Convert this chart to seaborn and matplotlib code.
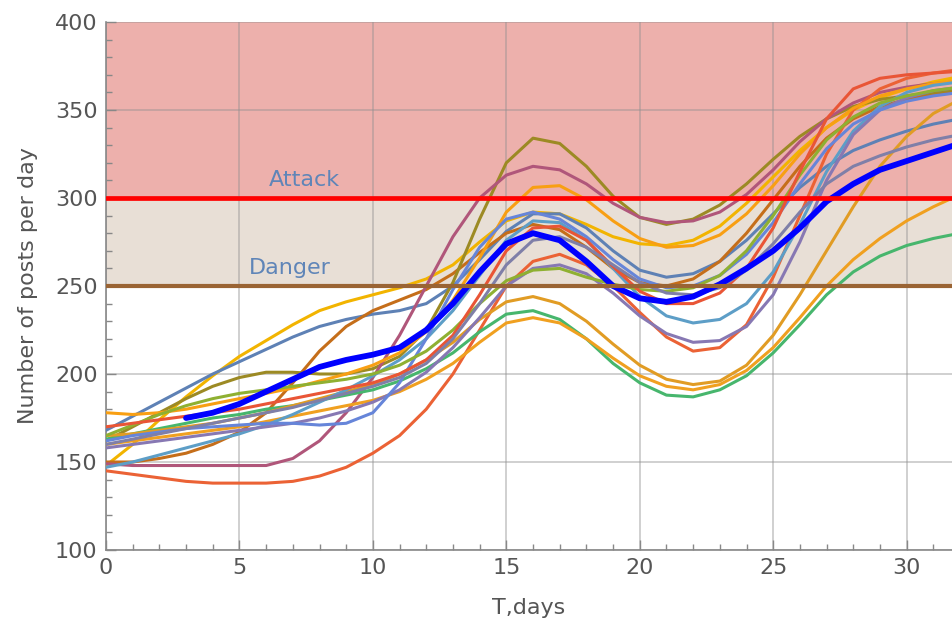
# Import libraries
import pandas as pd
import matplotlib.pyplot as plt
import seaborn as sns
from matplotlib.ticker import MultipleLocator

# Days on the x axis
days = list(range(33))

# Simulated runs (posts per day)
yellow = [148, 160, 174, 187, 199, 210, 219, 228, 236, 241, 245, 249, 254, 262, 275, 287, 292,
          291, 285, 278, 274, 273, 276, 284, 297, 312, 327, 340, 350, 357, 362, 366, 369]
steel = [168, 176, 184, 192, 200, 207, 214, 221, 227, 231, 234, 236, 240, 250, 265, 281, 291,
         291, 283, 270, 259, 255, 257, 264, 276, 291, 306, 318, 327, 333, 338, 342, 345]
brown = [150, 150, 152, 155, 160, 167, 178, 195, 213, 227, 236, 242, 248, 257, 269, 280, 285,
         282, 272, 260, 252, 250, 254, 264, 280, 299, 318, 334, 345, 352, 356, 359, 361]
olive = [162, 170, 178, 186, 193, 198, 201, 201, 200, 200, 203, 210, 225, 252, 288, 320, 334,
         331, 318, 301, 289, 285, 288, 296, 308, 322, 335, 345, 352, 356, 358, 360, 362]
mauve = [149, 148, 148, 148, 148, 148, 148, 152, 162, 178, 198, 222, 250, 278, 300, 313, 318,
         316, 308, 297, 289, 286, 287, 292, 302, 316, 332, 345, 354, 360, 363, 365, 366]
red_low = [145, 143, 141, 139, 138, 138, 138, 139, 142, 147, 155, 165, 180, 200, 225, 250, 264,
           268, 262, 250, 235, 221, 213, 215, 228, 255, 290, 325, 350, 362, 368, 371, 373]
green = [163, 166, 169, 172, 175, 177, 180, 182, 185, 188, 191, 196, 203, 212, 224, 234, 236,
         231, 220, 206, 195, 188, 187, 191, 199, 212, 228, 245, 258, 267, 273, 277, 280]
orange_a = [160, 162, 164, 166, 168, 170, 173, 176, 179, 182, 185, 190, 197, 206, 218, 229, 232,
            229, 220, 209, 199, 193, 191, 194, 202, 215, 232, 250, 265, 277, 287, 295, 302]
orange_b = [165, 166, 168, 170, 172, 175, 178, 182, 186, 190, 194, 200, 208, 218, 231, 241, 244,
            240, 230, 217, 205, 197, 194, 196, 205, 222, 245, 270, 295, 318, 335, 348, 356]
orange_c = [178, 177, 178, 180, 183, 186, 189, 192, 196, 200, 205, 212, 224, 242, 266, 292, 306,
            307, 299, 287, 277, 272, 273, 279, 291, 307, 325, 340, 351, 358, 362, 365, 367]
light_blue = [147, 150, 154, 158, 162, 166, 171, 177, 184, 191, 199, 208, 220, 236, 256, 276, 287,
              286, 276, 260, 244, 233, 229, 231, 240, 258, 285, 315, 338, 352, 360, 364, 366]
purple = [158, 160, 162, 164, 166, 168, 170, 172, 175, 179, 184, 191, 201, 215, 232, 250, 260,
          262, 257, 246, 233, 223, 218, 219, 227, 245, 275, 310, 336, 350, 357, 361, 363]
blue2 = [162, 165, 167, 169, 170, 171, 172, 172, 171, 172, 178, 195, 220, 248, 272, 288, 292,
         288, 278, 265, 254, 249, 250, 256, 268, 286, 308, 328, 342, 350, 355, 358, 360]
green2 = [165, 171, 177, 182, 186, 189, 191, 193, 195, 197, 200, 205, 213, 225, 240, 253, 259,
          260, 255, 251, 248, 247, 249, 256, 270, 290, 313, 333, 346, 354, 358, 361, 363]
red2 = [170, 172, 174, 176, 178, 180, 183, 186, 189, 192, 195, 200, 208, 222, 245, 270, 283,
        284, 276, 261, 247, 240, 240, 246, 260, 283, 315, 345, 362, 368, 370, 371, 372]
gray = [160, 163, 166, 169, 172, 175, 178, 181, 185, 189, 193, 198, 206, 220, 240, 262, 276,
        278, 272, 262, 252, 246, 245, 249, 259, 274, 292, 308, 318, 324, 329, 333, 336]

runs = [yellow, steel, brown, olive, mauve, red_low, green, orange_a, orange_b,
        orange_c, light_blue, purple, blue2, green2, red2, gray]
run_colors = ['#F2B400', '#5E81B5', '#C56E1A', '#9C8A24', '#B0567A', '#EB6235', '#47B66D',
              '#F0A020', '#E19C24', '#F89F13', '#5D9EC7', '#8778B3', '#6685D9', '#8FB032',
              '#E95536', '#7F7FA8']

# Average run (thick blue)
main_days = list(range(3, 33))
main = [175, 178, 183, 190, 197, 204, 208, 211, 215, 225, 240, 258, 274, 280, 276,
        264, 250, 243, 241, 244, 251, 260, 270, 283, 298, 308, 316, 321, 326, 331]

# Thresholds
attack_level = 300
danger_level = 250

# Long table for seaborn
frames = []
for i, r in enumerate(runs):
    frames.append(pd.DataFrame({'day': days, 'posts': r, 'run': i}))
data = pd.concat(frames, ignore_index=True)
main_df = pd.DataFrame({'day': main_days, 'posts': main})

sns.set_style('white')
plt.rcParams['font.family'] = ['DejaVu Sans']

fig = plt.figure(figsize=(9.52, 6.32), dpi=100)
ax = fig.add_axes([106 / 952, 82 / 632, 1 - 106 / 952, 1 - 104 / 632])

# Zones
ax.axhspan(attack_level, 400, color='#EDB0AC', zorder=0, lw=0)
ax.axhspan(danger_level, attack_level, color='#E8DFD6', zorder=0, lw=0)

sns.lineplot(data=data, x='day', y='posts', hue='run', palette=run_colors,
             linewidth=2.2, legend=False, ax=ax, zorder=3)
sns.lineplot(data=main_df, x='day', y='posts', color='#0000FF', linewidth=4.2,
             ax=ax, zorder=5)

ax.axhline(attack_level, color='#FF0000', linewidth=3.4, zorder=6)
ax.axhline(danger_level, color='#9A6434', linewidth=3.0, zorder=6)

ax.text(7.45, 310, 'Attack', color='#5F85B8', fontsize=16, ha='center', va='center', zorder=7)
ax.text(6.9, 260, 'Danger', color='#5F85B8', fontsize=16, ha='center', va='center', zorder=7)

# Axes
ax.set_xlim(0, 31.7)
ax.set_ylim(100, 400)
ax.xaxis.set_major_locator(MultipleLocator(5))
ax.xaxis.set_minor_locator(MultipleLocator(1))
ax.yaxis.set_major_locator(MultipleLocator(50))
ax.yaxis.set_minor_locator(MultipleLocator(10))
ax.grid(True, which='major', color='#909090', alpha=0.45, linewidth=1.3)
for line in ax.get_xgridlines() + ax.get_ygridlines():
    line.set_zorder(1)

ax.tick_params(which='major', direction='in', length=7, width=1, color='#888888',
               labelsize=16, labelcolor='#555555', pad=6)
ax.tick_params(which='minor', direction='in', length=4, width=1, color='#888888')
ax.tick_params(axis='x', which='both', bottom=True)
ax.tick_params(axis='y', which='both', left=True)

for side in ['top', 'right']:
    ax.spines[side].set_visible(False)
for side in ['left', 'bottom']:
    ax.spines[side].set_color('#888888')
    ax.spines[side].set_linewidth(1.2)

ax.set_xlabel('T,days', fontsize=16, color='#555555', labelpad=14)
ax.set_ylabel('Number of posts per day', fontsize=16, color='#555555', labelpad=12)

fig.savefig('out.png', dpi=100)
